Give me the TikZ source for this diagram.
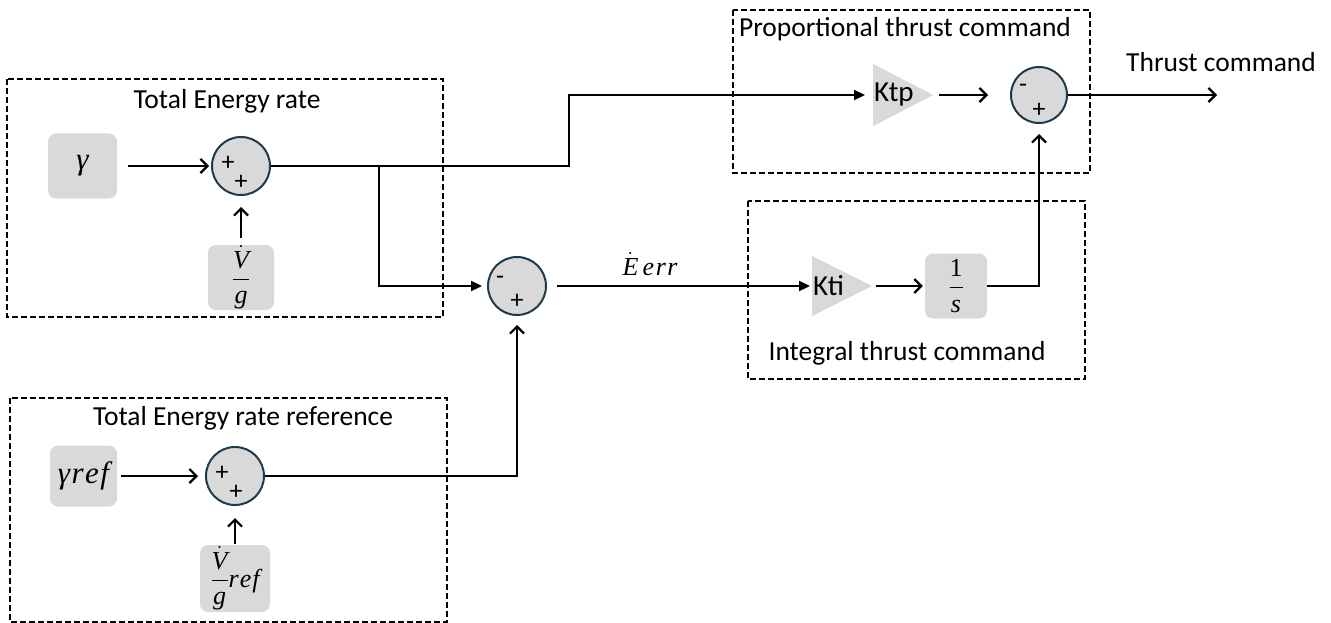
\RequirePackage{fix-cm}
\documentclass[tikz,border=0pt]{standalone}
\usepackage{amsmath}
\usepackage{fontspec}
\setmainfont{Carlito}
\newfontfamily\mfont{Liberation Serif}
\newcommand{\mi}[1]{\hbox{\mfont\itshape #1}}
\newcommand{\mup}[1]{\hbox{\mfont #1}}
\usetikzlibrary{arrows.meta,shapes.geometric,calc}

\definecolor{blockgray}{HTML}{D9D9D9}
\definecolor{sumedge}{HTML}{1F3A4B}

\begin{document}
\begin{tikzpicture}[x=1pt,y=-1pt,
    every node/.style={font=\fontsize{27.5}{30}\selectfont},
    blk/.style={fill=blockgray,rounded corners=8pt,inner sep=0pt},
    mathfont/.style={font=\fontsize{31}{34}\selectfont},
    fracfont/.style={font=\fontsize{26}{30}\selectfont},
    sumnode/.style={circle,draw=sumedge,line width=2pt,fill=blockgray,minimum size=58pt,inner sep=0pt},
    gain/.style={isosceles triangle,isosceles triangle stretches,fill=blockgray,minimum width=60pt,minimum height=60pt,inner sep=0pt,anchor=west},
    gaintext/.style={anchor=west,inner sep=1pt,font=\fontsize{29}{32}\selectfont},
    sgn/.style={font=\fontsize{26}{28}\selectfont,inner sep=0pt},
    wire/.style={line width=2.2pt},
    barb/.style={wire,-{Straight Barb[length=7pt,width=14pt,line width=2.2pt]}},
    solidarrow/.style={wire,-{Triangle[length=11pt,width=10pt]}},
    grp/.style={line width=1.8pt,dash pattern=on 6pt off 3pt}]
    \useasboundingbox (0,0) rectangle (1331,623);

    \draw[grp] (7,79) rectangle (443,317);
    \draw[grp] (10,398) rectangle (447,622);
    \draw[grp] (733,10) rectangle (1090,173);
    \draw[grp] (748,201) rectangle (1085,379);

    \node (lbltot) at (227,101) {Total Energy rate};
    \node (lblref) at (243,418) {Total Energy rate reference};
    \node (lblprop) at (905,29) {Proportional thrust command};
    \node (lblint) at (907,353) {Integral thrust command};

    \node[blk,mathfont,minimum width=69pt,minimum height=65pt] (gam) at (82.5,166) {\mi{γ}};
    \node[sumnode] (sum1) at (241,166) {};
    \node[blk,fracfont,minimum width=66pt,minimum height=65pt] (vg) at (241,277.5) {$\dfrac{\dot{\mi{V}}}{\mi{g}}$};

    \node[blk,mathfont,minimum width=67pt,minimum height=61pt] (gref) at (83.5,476) {\mi{γ\kern1.5pt r\kern1.5pt e\kern1.5pt f}};
    \node[sumnode] (sum3) at (235,476) {};
    \node[blk,fracfont,minimum width=70pt,minimum height=67pt] (vgref) at (235,578.5) {$\dfrac{\dot{\mi{V}}}{\mi{g}}\mi{r\kern1pt e\kern1pt f}$};

    \node[sumnode] (sum2) at (517,286) {};
    \node[fracfont] (eerr) at (650,264) {$\dot{\mi{E}}\,\mi{e\kern1.5pt r\kern1.5pt r}$};

    \node[gain] (kti) at (812,286) {};
    \node[gaintext] (ktilbl) at (kti.west) {Kti};
    \node[blk,fracfont,minimum width=62pt,minimum height=65pt] (integ) at (956,286) {$\dfrac{\mup{1}}{\mi{s}}$};

    \node[gain,minimum width=62pt] (ktp) at (873,95) {};
    \node[gaintext] (ktplbl) at (ktp.west) {Ktp};
    \node[sumnode,minimum size=56pt] (sum4) at (1039,95) {};
    \node (thrlbl) at (1221,62) {Thrust command};
    \coordinate (thr) at (1217,95);

    \node[sgn] (s1a) at ($(sum1)+(-13,-3)$) {+};
    \node[sgn] (s1b) at ($(sum1)+(0,16)$) {+};
    \node[sgn] (s3a) at ($(sum3)+(-13,-3)$) {+};
    \node[sgn] (s3b) at ($(sum3)+(1,16)$) {+};
    \node[sgn] (s2a) at ($(sum2)+(-17,-6)$) {-};
    \node[sgn] (s2b) at ($(sum2)+(0,15)$) {+};
    \node[sgn] (s4a) at ($(sum4)+(-16,-7)$) {-};
    \node[sgn] (s4b) at ($(sum4)+(0,15)$) {+};

    \coordinate (bend1) at (569,166);
    \coordinate (br) at (379,166);

    \draw[barb,shorten <=11pt,shorten >=2pt] (gam) -- (sum1);
    \draw[barb,shorten <=7pt,shorten >=11pt] (vg) -- (sum1);
    \draw[barb,shorten <=4pt,shorten >=7pt] (gref) -- (sum3);
    \draw[barb,shorten <=1pt,shorten >=12pt] (vgref) -- (sum3);

    \draw[solidarrow,shorten >=8pt] (sum1.east) -- (bend1) |- (ktp.west);
    \draw[solidarrow,shorten >=5pt] (br) |- (sum2.west);
    \draw[barb,shorten >=9pt] (sum3.east) -| (sum2.south);

    \draw[solidarrow,shorten <=10pt,shorten >=2pt] (sum2.east) -- (kti.west);
    \draw[barb,shorten <=3pt,shorten >=2pt] (kti.apex) -- (integ.west);
    \draw[barb,shorten >=10pt] (integ.east) -| (sum4.south);

    \draw[barb,shorten <=5pt,shorten >=22pt] (ktp.apex) -- (sum4.west);
    \draw[barb] (sum4.east) -- (thr);
\end{tikzpicture}
\end{document}
